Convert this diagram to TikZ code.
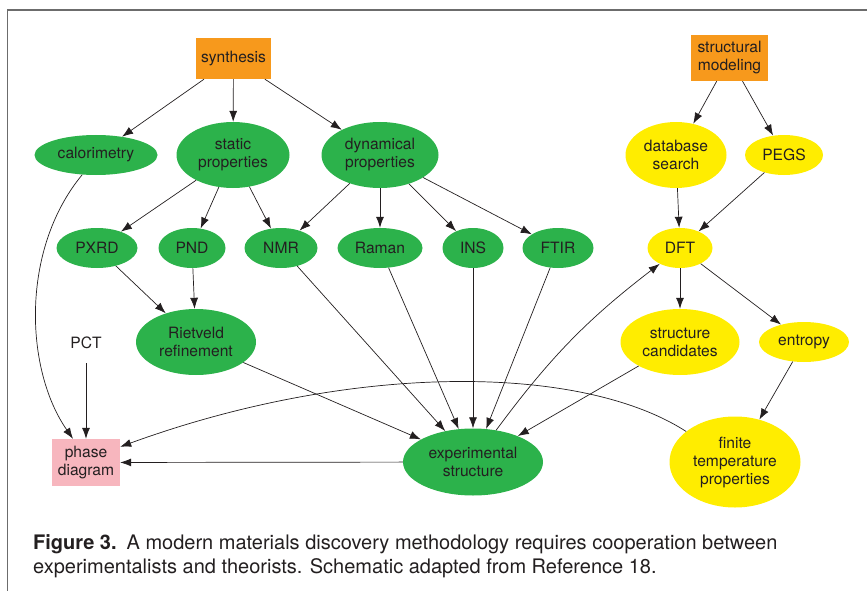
\documentclass[tikz,border=0pt]{standalone}
\usepackage{fontspec}
\setsansfont{TeX Gyre Heros}
\usepackage{tikz}
\usetikzlibrary{arrows.meta,shapes.geometric,positioning}
\definecolor{matgreen}{RGB}{44,178,75}
\definecolor{matyellow}{RGB}{255,237,0}
\definecolor{matorange}{RGB}{247,153,28}
\definecolor{matpink}{RGB}{247,182,190}
\definecolor{inkgray}{RGB}{35,31,32}

\begin{document}
\begin{tikzpicture}[
    x=1pt, y=-1pt,
    >={Latex[length=11pt,width=8pt]},
    font=\sffamily\fontsize{15.6}{18}\selectfont,
    text=inkgray,
    task/.style={
		rectangle,
		fill=matorange,
		inner sep=0pt,
		align=center
	},
    expt/.style={
		ellipse,
		fill=matgreen,
		inner sep=0pt,
		align=center
	},
    theory/.style={
		ellipse,
		fill=matyellow,
		inner sep=0pt,
		align=center
	},
    link/.style={
		draw=inkgray,
		line width=0.7pt
	}
  ]
  \useasboundingbox (0,0) rectangle (867,591);
  \draw [line width=1.2pt, gray!85!black] (7.5,591) -- (7.5,10) -- (867,10);

    % We start by placing the blocks
  \node [task, minimum width=75, minimum height=41] (synthesis) at (233.5,58.5) {synthesis};
  \node [task, minimum width=77, minimum height=46] (structmod) at (729.5,58) {structural\\modeling};

  \node [expt, minimum width=123, minimum height=40] (calorimetry) at (96,155) {calorimetry};
  \node [expt, minimum width=113, minimum height=66] (static) at (233,155) {static\\properties};
  \node [expt, minimum width=117, minimum height=66] (dynamical) at (380,155) {dynamical\\properties};
  \node [theory, minimum width=101, minimum height=66] (dbsearch) at (676,155) {database\\search};
  \node [theory, minimum width=78, minimum height=40] (pegs) at (784,155) {PEGS};

  \node [expt, minimum width=81, minimum height=40] (pxrd) at (97,248) {PXRD};
  \node [expt, minimum width=67, minimum height=40] (pnd) at (192,248) {PND};
  \node [expt, minimum width=73, minimum height=40] (nmr) at (281,248) {NMR};
  \node [expt, minimum width=85, minimum height=40] (raman) at (380,248) {Raman};
  \node [expt, minimum width=61, minimum height=40] (ins) at (473,248) {INS};
  \node [expt, minimum width=71, minimum height=40] (ftir) at (558,248) {FTIR};
  \node [theory, minimum width=65, minimum height=40] (dft) at (680,248) {DFT};

  \node [minimum height=40, inner sep=0pt] (pct) at (86,343) {PCT};
  \node [expt, minimum width=120, minimum height=66] (rietveld) at (196,342) {Rietveld\\refinement};
  \node [theory, minimum width=119, minimum height=66] (candidates) at (680,342) {structure\\candidates};
  \node [theory, minimum width=90, minimum height=40] (entropy) at (804,342) {entropy};

  \node [rectangle, fill=matpink, inner sep=0pt, align=center, minimum width=68, minimum height=47] (phase) at (86,462.5) {phase\\diagram};
  \node [expt, minimum width=140, minimum height=67] (expstruct) at (473,462) {experimental\\structure};
  \node [theory, minimum width=131, minimum height=91] (finite) at (735,462) {finite\\temperature\\properties};

 \draw [link,->] (synthesis) -- (calorimetry);
 \draw [link,->] (synthesis) -- (static);
 \draw [link,->] (synthesis) -- (dynamical);
 \draw [link,->] (structmod) -- (dbsearch);
 \draw [link,->] (structmod) -- (pegs);

 \draw [link,->] (static) -- (pxrd);
 \draw [link,->] (static) -- (pnd);
 \draw [link,->] (static) -- (nmr);
 \draw [link,->] (dynamical) -- (nmr);
 \draw [link,->] (dynamical) -- (raman);
 \draw [link,->] (dynamical) -- (ins);
 \draw [link,->] (dynamical) -- (ftir);
 \draw [link,->] (dbsearch) -- (dft);
 \draw [link,->] (pegs) -- (dft);

 \draw [link,->] (pxrd) -- (rietveld);
 \draw [link,->] (pnd) -- (rietveld);
 \draw [link,->] (dft) -- (candidates);
 \draw [link,->] (dft) -- (entropy);

 \draw [link,->] (rietveld) -- (expstruct);
 \draw [link,->] (nmr) -- (expstruct);
 \draw [link,->] (raman) -- (expstruct);
 \draw [link,->] (ins) -- (expstruct);
 \draw [link,->] (ftir) -- (expstruct);
 \draw [link,->] (candidates) -- (expstruct);
 \draw [link,->] (expstruct) to [bend left=8] (dft);
 \draw [link,->] (entropy) -- (finite);

 \draw [link,->] (pct) -- (phase);
 \draw [link,->] (expstruct) -- (phase);
 \draw [link,->] (calorimetry.235) .. controls (20,250) and (25,370) .. ([xshift=-13]phase.north);
 \draw [link,->] (finite.148) .. controls (580,363) and (350,363) .. ([yshift=-8]phase.north east);

  \node [anchor=base west, align=left, inner sep=0pt, font=\sffamily\fontsize{20}{24}\selectfont] (caption) at (33,573)
 {\textbf{Figure 3.}\enspace A modern materials discovery methodology requires cooperation between\\experimentalists and theorists. Schematic adapted from Reference 18.};

\end{tikzpicture}
\end{document}
